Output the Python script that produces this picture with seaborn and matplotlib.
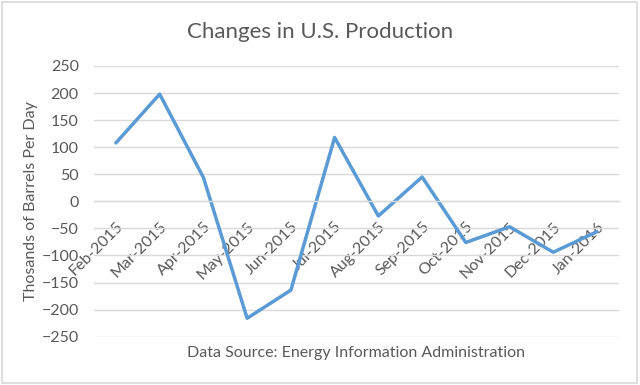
import numpy as np
import pandas as pd
import seaborn as sns
import matplotlib
matplotlib.use('Agg')
from matplotlib import pyplot as plt
from matplotlib.patches import Rectangle

# data (thousands of barrels per day)
months = ["Feb-2015", "Mar-2015", "Apr-2015", "May-2015", "Jun-2015", "Jul-2015",
          "Aug-2015", "Sep-2015", "Oct-2015", "Nov-2015", "Dec-2015", "Jan-2016"]
changes = [108, 198, 44, -216, -164, 118, -27, 45, -76, -47, -94, -56]
y_ticks = [250, 200, 150, 100, 50, 0, -50, -100, -150, -200, -250]

df = pd.DataFrame({"month": months, "change": changes})

sns.set_style("white")
plt.rcParams['font.family'] = ['Lato', 'DejaVu Sans']
txt = "#595959"
grid_c = "#D9D9D9"

fig = plt.figure(figsize=(6.4, 3.85), dpi=100)
ax = fig.add_axes([0.147, 0.1255, 0.82, 0.7031])

sns.lineplot(data=df, x="month", y="change", sort=False, color="#5B9BD5",
             linewidth=2.5, ax=ax)

ax.set_ylim(-250, 250)
ax.set_xlim(-0.5, len(months) - 0.5)
ax.set_yticks(y_ticks)
ax.yaxis.grid(True, color=grid_c, linewidth=1.0)
ax.set_axisbelow(True)

for s in ["top", "right", "left"]:
    ax.spines[s].set_visible(False)
ax.spines["bottom"].set_position(("data", 0))
ax.spines["bottom"].set_color(grid_c)
ax.spines["bottom"].set_linewidth(1.0)

ax.set_xticks(range(len(months)))
ax.set_xticklabels(months, rotation=45, ha="right", rotation_mode="anchor")
ax.tick_params(axis="x", length=0, pad=13, labelsize=11.5, labelcolor=txt)
ax.tick_params(axis="y", length=0, pad=11, labelsize=11.5, labelcolor=txt)

ax.set_ylabel("Thosands of Barrels Per Day", fontsize=11.5, color=txt)
ax.yaxis.set_label_coords(-0.107, 0.5)
ax.set_xlabel("Data Source: Energy Information Administration", fontsize=11.5, color=txt)
ax.xaxis.set_label_coords(0.5, -0.035, transform=ax.transAxes)
ax.xaxis.label.set_verticalalignment("top")

fig.text(0.5, 0.918, "Changes in U.S. Production", ha="center", va="center",
         fontsize=16, color=txt)

fig.patches.append(Rectangle((0.003, 0.004), 0.992, 0.992, transform=fig.transFigure,
                             fill=False, edgecolor=grid_c, linewidth=1.2))

fig.savefig("out.png", dpi=100)
